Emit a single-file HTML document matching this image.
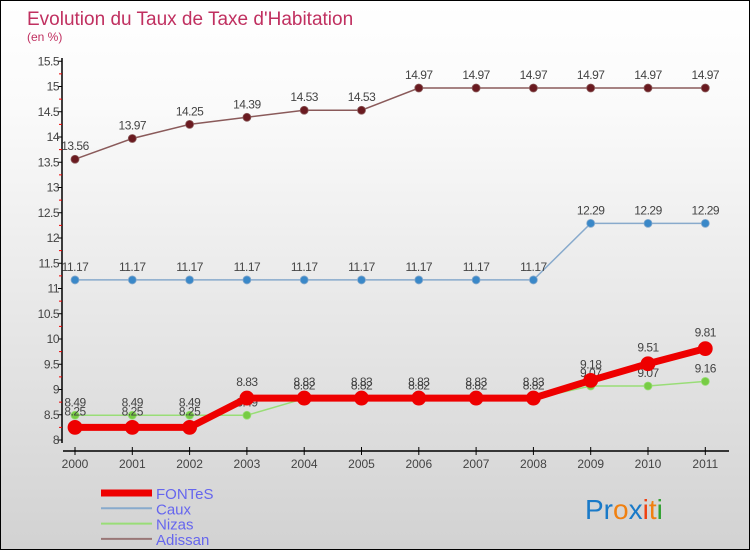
<!DOCTYPE html>
<html><head><meta charset="utf-8"><style>
body{margin:0}
#c{width:748px;height:548px;border:1px solid #000;background:linear-gradient(#fff,#fafafa 20%,#d2d2d2);position:relative;overflow:hidden;font-family:"Liberation Sans",sans-serif}
</style></head><body>
<div id="c">
<svg id="s" width="748" height="548" style="position:absolute;left:0;top:0"></svg>
</div>
<script>
const years=["2000","2001","2002","2003","2004","2005","2006","2007","2008","2009","2010","2011"];
const fontes=[8.25,8.25,8.25,8.83,8.83,8.83,8.83,8.83,8.83,9.18,9.51,9.81];
const caux=[11.17,11.17,11.17,11.17,11.17,11.17,11.17,11.17,11.17,12.29,12.29,12.29];
const nizas=[8.49,8.49,8.49,8.49,8.82,8.82,8.82,8.82,8.82,9.07,9.07,9.16];
const adissan=[13.56,13.97,14.25,14.39,14.53,14.53,14.97,14.97,14.97,14.97,14.97,14.97];
const yTicks=[8,8.5,9,9.5,10,10.5,11,11.5,12,12.5,13,13.5,14,14.5,15,15.5];
const NS="http://www.w3.org/2000/svg";
const s=document.getElementById('s');
const X=i=>74+i*57.3;
const Y=v=>439-(v-8)*50.5;
function el(t,a,p){const e=document.createElementNS(NS,t);for(const k in a)e.setAttribute(k,a[k]);(p||s).appendChild(e);return e;}
function tx(x,y,str,a){const e=el('text',Object.assign({x:x,y:y},a));e.textContent=str;return e;}
const title=tx(26,24,"Evolution du Taux de Taxe d'Habitation",{'font-size':19,fill:'#c03060'});


const unit=tx(26,40,"(en %)",{'font-size':12,fill:'#c03060'});


const ya=el('line',{x1:61,y1:57,x2:61,y2:442,stroke:'#000','stroke-width':1.5});


yTicks.forEach(v=>{
 el('line',{x1:57,x2:61,y1:Y(v),y2:Y(v),stroke:'#000'});
 if(v<15.5) el('line',{x1:58,x2:61,y1:Y(v+0.25),y2:Y(v+0.25),stroke:'#e00'});
 const t=tx(58,Y(v)+4,String(v),{'font-size':12,fill:'#444','text-anchor':'end','letter-spacing':'-0.5'});
 
 
});
const xa=el('line',{x1:62,y1:450,x2:728,y2:450,stroke:'#000','stroke-width':1.5});


years.forEach((y,i)=>{
 el('line',{x1:X(i),x2:X(i),y1:446,y2:454,stroke:'#000'});
 const t=tx(X(i),467,y,{'font-size':12,fill:'#444','text-anchor':'middle'});
 
 
});
function series(vals,name,color,dot,w,r,dy){
 const g=el('g',{});
 
 
 el('polyline',{points:vals.map((v,i)=>X(i)+','+Y(v)).join(' '),fill:'none',stroke:color,'stroke-width':w},g);
 vals.forEach((v,i)=>{
  const c=el('circle',{cx:X(i),cy:Y(v),r:r,fill:dot,stroke:color,'stroke-width':0.8},g);
  
  
  tx(X(i),Y(v)-dy,String(v),{'font-size':12,fill:'#444','text-anchor':'middle','letter-spacing':'-0.5'},g);
 });
}
series(adissan,'adissan','#8a5a5a','#6a1a20',1.5,4,9);
series(caux,'caux','#88aacc','#3a88c8',1.5,4,9);
series(nizas,'nizas','#99dd77','#77cc44',1.5,4,9);
series(fontes,'fontes','#ee0000','#ee0000',7,7,12);
const leg=[['FONTeS','#ee0000',7],['Caux','#88aacc',2],['Nizas','#99dd77',2],['Adissan','#997777',2]];
leg.forEach((l,i)=>{
 const y=492+i*15.3;
 const g=el('g',{});
 
 
 el('line',{x1:100,x2:151,y1:y,y2:y,stroke:l[1],'stroke-width':l[2]},g);
 tx(155,y+6,l[0],{'font-size':15,fill:'#6666ee'},g);
});
const lg=tx(584,518,"",{'font-size':28});


[['Pr','#1a7ac8'],['o','#f08010'],['x','#1a7ac8'],['i','#f04010'],['t','#f08010'],['i','#30a030']].forEach(p=>{const t=el('tspan',{fill:p[1]},lg);t.textContent=p[0];});
</script>
</body></html>
